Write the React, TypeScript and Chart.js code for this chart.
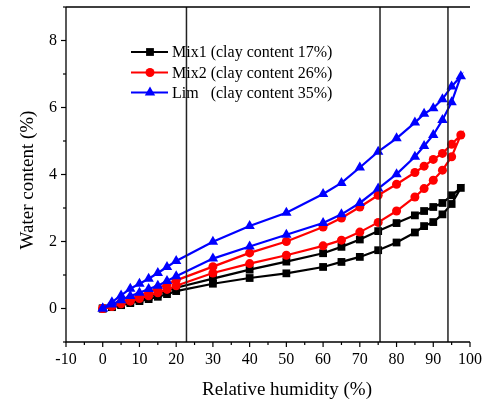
import React, { useEffect, useRef } from 'react';
import { Chart, registerables } from 'chart.js';

Chart.register(...registerables);

// Relative humidity (%) of the adsorption (rising) and desorption (falling) branches
const rhAdsorption = [0, 2.5, 5, 7.5, 10, 12.5, 15, 17.5, 20, 30, 40, 50, 60, 65, 70, 75, 80, 85, 87.5, 90, 92.5, 95, 97.5];
const rhDesorption = [95, 92.5, 90, 87.5, 85, 80, 75, 70, 65, 60, 50, 40, 30, 20, 17.5, 15, 12.5, 10, 7.5, 5, 2.5, 0];

// Water content (%)
const mix1Adsorption = [0, 0.04, 0.1, 0.16, 0.22, 0.28, 0.35, 0.43, 0.52, 0.74, 0.91, 1.05, 1.24, 1.39, 1.54, 1.74, 1.97, 2.27, 2.46, 2.58, 2.81, 3.12, 3.6];
const mix1Desorption = [3.38, 3.15, 3.03, 2.91, 2.78, 2.55, 2.31, 2.06, 1.84, 1.65, 1.4, 1.16, 0.89, 0.62, 0.52, 0.43, 0.35, 0.27, 0.2, 0.12, 0.05, 0];

const mix2Adsorption = [0, 0.06, 0.14, 0.22, 0.3, 0.38, 0.47, 0.57, 0.68, 1.06, 1.34, 1.59, 1.87, 2.04, 2.28, 2.57, 2.91, 3.33, 3.58, 3.83, 4.13, 4.53, 5.18];
const mix2Desorption = [4.9, 4.63, 4.45, 4.25, 4.06, 3.71, 3.38, 3.03, 2.7, 2.43, 2.0, 1.66, 1.25, 0.84, 0.72, 0.6, 0.49, 0.39, 0.29, 0.19, 0.09, 0];

const limAdsorption = [0, 0.12, 0.25, 0.37, 0.47, 0.58, 0.68, 0.82, 0.96, 1.49, 1.85, 2.2, 2.55, 2.81, 3.15, 3.58, 4.01, 4.53, 4.85, 5.18, 5.63, 6.16, 6.93];
const limDesorption = [6.63, 6.25, 5.98, 5.81, 5.55, 5.08, 4.68, 4.21, 3.75, 3.42, 2.86, 2.46, 1.99, 1.42, 1.24, 1.06, 0.89, 0.74, 0.59, 0.39, 0.19, 0];

const seriesNames = ['Mix1 (clay content 17%)', 'Mix2 (clay content 26%)', 'Lim   (clay content 35%)'];
const seriesColors = ['#000000', '#ff0000', '#0000ff'];
const seriesMarkers = ['rect', 'circle', 'triangle'];

const xTickValues = [-10, 0, 10, 20, 30, 40, 50, 60, 70, 80, 90, 100];
const yTickValues = [0, 2, 4, 6, 8];
const referenceRH = [22.8, 75.5, 94];

const xTitle = 'Relative humidity (%)';
const yTitle = 'Water content (%)';

const FONT = '"Liberation Serif", "Times New Roman", serif';

function loop(rhA: number[], a: number[], rhD: number[], d: number[]) {
  return [
    ...rhA.map((x, i) => ({ x, y: a[i] })),
    ...rhD.map((x, i) => ({ x, y: d[i] })),
  ];
}

function drawMarker(ctx: CanvasRenderingContext2D, style: string, x: number, y: number, color: string) {
  ctx.save();
  ctx.fillStyle = color;
  ctx.beginPath();
  if (style === 'rect') {
    const s = 3.9;
    ctx.rect(x - s, y - s, 2 * s, 2 * s);
  } else if (style === 'circle') {
    ctx.arc(x, y, 4.5, 0, Math.PI * 2);
  } else {
    const r = 6;
    ctx.moveTo(x, y - r);
    ctx.lineTo(x + r * 0.866, y + r * 0.5);
    ctx.lineTo(x - r * 0.866, y + r * 0.5);
    ctx.closePath();
  }
  ctx.fill();
  ctx.restore();
}

const decorPlugin = {
  id: 'decor',
  afterDraw(chart: any) {
    const { ctx, chartArea } = chart;
    const { left, right, top, bottom } = chartArea;
    const xs = chart.scales.x;
    const ys = chart.scales.y;
    ctx.save();

    // reference vertical lines
    ctx.strokeStyle = '#222';
    ctx.lineWidth = 1.5;
    referenceRH.forEach((v) => {
      const px = xs.getPixelForValue(v);
      ctx.beginPath();
      ctx.moveTo(px, top);
      ctx.lineTo(px, bottom);
      ctx.stroke();
    });

    // axes frame (left, bottom, top)
    ctx.strokeStyle = '#000';
    ctx.lineWidth = 1.3;
    ctx.beginPath();
    ctx.moveTo(left, top);
    ctx.lineTo(left, bottom);
    ctx.lineTo(right, bottom);
    ctx.moveTo(left, top);
    ctx.lineTo(right, top);
    ctx.stroke();

    // x ticks
    ctx.lineWidth = 1.2;
    for (let v = -10; v <= 100; v += 5) {
      const px = xs.getPixelForValue(v);
      const major = v % 10 === 0;
      ctx.beginPath();
      ctx.moveTo(px, bottom);
      ctx.lineTo(px, bottom + (major ? 5 : 3));
      ctx.stroke();
    }
    // y ticks
    for (let v = -1; v <= 9; v += 1) {
      const py = ys.getPixelForValue(v);
      const major = v % 2 === 0;
      ctx.beginPath();
      ctx.moveTo(left, py);
      ctx.lineTo(left - (major ? 5 : 3), py);
      ctx.stroke();
    }

    // legend
    const rowsY = [52, 72.5, 92.5];
    ctx.font = `16px ${FONT}`;
    ctx.textBaseline = 'middle';
    ctx.textAlign = 'left';
    seriesNames.forEach((name, i) => {
      const yy = rowsY[i];
      ctx.strokeStyle = seriesColors[i];
      ctx.lineWidth = 2.2;
      ctx.beginPath();
      ctx.moveTo(131, yy);
      ctx.lineTo(168, yy);
      ctx.stroke();
      drawMarker(ctx, seriesMarkers[i], 150, yy, seriesColors[i]);
      ctx.fillStyle = '#000';
      ctx.fillText(name, 172, yy + 1);
    });

    // axis titles
    ctx.font = `19px ${FONT}`;
    ctx.fillStyle = '#000';
    ctx.textAlign = 'center';
    ctx.textBaseline = 'middle';
    ctx.fillText(xTitle, 287, 390);
    ctx.save();
    ctx.translate(28, 180);
    ctx.rotate(-Math.PI / 2);
    ctx.fillText(yTitle, 0, 0);
    ctx.restore();

    ctx.restore();
  },
};

export default function App() {
  const ref = useRef<HTMLCanvasElement | null>(null);

  useEffect(() => {
    if (!ref.current) return;
    const datasets = [
      { label: seriesNames[2], data: loop(rhAdsorption, limAdsorption, rhDesorption, limDesorption), color: seriesColors[2], marker: seriesMarkers[2], radius: 6, order: 0 },
      { label: seriesNames[1], data: loop(rhAdsorption, mix2Adsorption, rhDesorption, mix2Desorption), color: seriesColors[1], marker: seriesMarkers[1], radius: 4.5, order: 1 },
      { label: seriesNames[0], data: loop(rhAdsorption, mix1Adsorption, rhDesorption, mix1Desorption), color: seriesColors[0], marker: seriesMarkers[0], radius: 5.5, order: 2 },
    ].map((d) => ({
      label: d.label,
      data: d.data,
      borderColor: d.color,
      backgroundColor: d.color,
      pointBackgroundColor: d.color,
      pointBorderColor: d.color,
      pointBorderWidth: 0,
      pointStyle: d.marker,
      pointRadius: d.radius,
      borderWidth: 2.2,
      tension: 0,
      fill: false,
      order: d.order,
    }));

    const chart = new Chart(ref.current, {
      type: 'line',
      data: { datasets },
      plugins: [decorPlugin],
      options: {
        animation: false,
        responsive: false,
        devicePixelRatio: 1,
        layout: { padding: { top: 7, right: 13, left: 0, bottom: 0 } },
        plugins: { legend: { display: false }, tooltip: { enabled: false } },
        scales: {
          x: {
            type: 'linear',
            min: -10,
            max: 100,
            grid: { display: false, drawTicks: false },
            border: { display: false },
            afterBuildTicks: (s: any) => { s.ticks = xTickValues.map((v) => ({ value: v })); },
            afterFit: (s: any) => { s.height = 59; s.paddingLeft = 0; s.paddingRight = 0; },
            ticks: { padding: 8, color: '#000', font: { family: FONT, size: 16 }, maxRotation: 0, autoSkip: false },
          },
          y: {
            type: 'linear',
            min: -1,
            max: 9,
            grid: { display: false, drawTicks: false },
            border: { display: false },
            afterBuildTicks: (s: any) => { s.ticks = yTickValues.map((v) => ({ value: v })); },
            afterFit: (s: any) => { s.width = 66; s.paddingTop = 0; s.paddingBottom = 0; },
            ticks: { padding: 9, color: '#000', font: { family: FONT, size: 16 } },
          },
        },
      } as any,
    });
    return () => chart.destroy();
  }, []);

  return (
    <div style={{ position: 'fixed', left: 0, top: 0, width: 483, height: 401, background: '#fff' }}>
      <canvas ref={ref} width={483} height={401} style={{ display: 'block', width: 483, height: 401 }} />
    </div>
  );
}
